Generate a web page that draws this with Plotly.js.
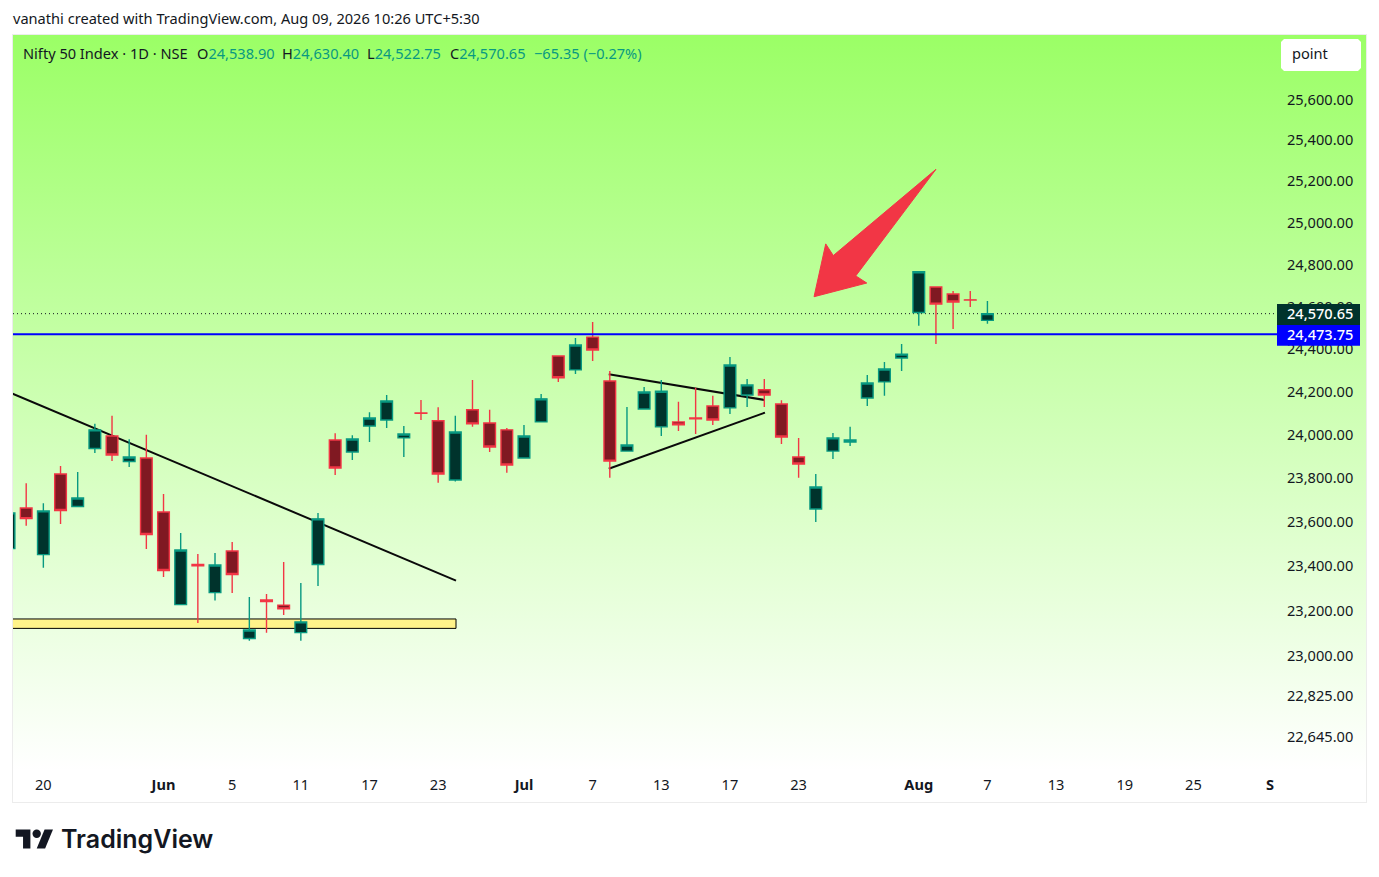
<!DOCTYPE html>
<html>
<head>
<meta charset="utf-8">
<title>Nifty 50 Index</title>
<script src="https://cdn.plot.ly/plotly-3.0.1.min.js"></script>
<style>
  html, body { margin: 0; padding: 0; background: #fff; }
  #frame { position: absolute; left: 12px; top: 34px; width: 1353px; height: 767px; border: 1px solid #ececec; background: #fff; }
  #grad { position: absolute; left: 0; top: 0; width: 1353px; height: 735px; background: linear-gradient(180deg, #9bff66 0%, #ffffff 100%); }
  #chart { position: absolute; left: 0; top: 0; width: 1379px; height: 877px; }
</style>
</head>
<body>
<div id="frame"><div id="grad"></div></div>
<div id="chart"></div>
<script>
// daily bars (bar index 0 = the one before "20")
const barIndex = [-1,0,1,2,3,4,5,6,7,8,9,10,11,12,13,14,15,16,17,18,19,20,21,22,23,24,25,26,27,28,29,30,31,32,33,34,35,36,37,38,39,40,41,42,43,44,45,46,47,48,49,50,51,52,53,54,55,56];
const opens  = [23484,23668,23457,23824,23675,23941,23999,23881,23897,23650,23232,23412,23286,23473,23081,23253,23230,23107,23412,23980,23925,24045,24073,23990,24105,24069,23796,24120,24059,24027,23897,24064,24371,24306,24460,24254,23929,24124,24041,24064,24082,24138,24129,24189,24213,24147,23902,23664,23929,23971,24175,24250,24362,24576,24697,24664,24636,24538.90];
const highs  = [23650,23781,23690,23861,23833,24055,24092,23984,24004,23732,23555,23460,23464,23514,23266,23280,23424,23329,23646,24011,24002,24109,24189,24045,24166,24132,24092,24259,24120,24036,24050,24194,24373,24456,24531,24301,24133,24226,24259,24157,24223,24185,24366,24264,24264,24164,23990,23824,24013,24041,24282,24343,24427,24772,24698,24678,24678,24630.40];
const lows   = [23480,23588,23398,23596,23672,23920,23883,23856,23482,23356,23230,23150,23250,23284,23071,23107,23186,23071,23316,23819,23888,23971,24036,23902,24073,23784,23789,24042,23925,23829,23895,24062,24250,24287,24348,23806,23927,24122,23999,24022,24008,24050,24101,24133,24133,23962,23806,23605,23893,23952,24138,24185,24301,24514,24427,24498,24602,24522.75];
const closes = [23646,23620,23655,23657,23714,24027,23911,23902,23548,23385,23478,23406,23410,23367,23119,23246,23213,23155,23619,23851,23985,24082,24161,24008,24104,23824,24017,24055,23948,23865,23999,24171,24269,24423,24399,23883,23957,24203,24206,24050,24078,24073,24329,24236,24189,23994,23870,23764,23990,23980,24245,24310,24380,24770,24616,24626,24635,24570.65];

const lastClose = 24570.65;
const levelPrice = 24473.75;

// drawings on the chart
const downTrendX = [-1, 25.04];
const downTrendY = [24202, 23340];
const triUpperX = [33.94, 43.0];
const triUpperY = [24286, 24166];
const triLowerX = [33.94, 43.04];
const triLowerY = [23848, 24107];
const zoneX = [-1, 25.04];
const zoneY = [23126, 23168];
const arrowX = [45.9, 46.58, 47.02, 53.0, 48.33, 48.97, 45.9];
const arrowY = [24651, 24903, 24847, 25263, 24750, 24716, 24651];

// axes
const priceTicks = [25600,25400,25200,25000,24800,24600,24400,24200,24000,23800,23600,23400,23200,23000,22825,22645];
const priceLabels = ['25,600.00','25,400.00','25,200.00','25,000.00','24,800.00','24,600.00','24,400.00','24,200.00','24,000.00','23,800.00','23,600.00','23,400.00','23,200.00','23,000.00','22,825.00','22,645.00'];
const timeTicks = [1,8,12,16,20,24,29,33,37,41,45,52,56,60,64,68,72.47];
const timeLabels = ['20','<b>Jun</b>','5','11','17','23','<b>Jul</b>','7','13','17','23','<b>Aug</b>','7','13','19','25','<b>S</b>'];

const COLORS = { up: '#089981', upFill: '#00332c', down: '#f23645', downFill: '#801922', text: '#131722', level: '#0000ff' };
const FONT = '"Noto Sans", sans-serif';
const TEXT_SIZE = 14.6;

// page pixels → paper coords
const W = 1379, H = 877;
const M = { l: 13, r: 102, t: 35, b: 107 };
const px = (x) => (x - M.l) / (W - M.l - M.r);
const py = (y) => 1 - (y - M.t) / (H - M.t - M.b);

function polyPath(pts) {
  return pts.map((p, i) => `${i ? 'L' : 'M'}${px(p[0])},${py(p[1])}`).join(' ') + ' Z';
}
function dataLine(xs, ys, color, width, dash, layer) {
  return { type: 'line', xref: 'x', yref: 'y', x0: xs[0], x1: xs[1], y0: ys[0], y1: ys[1], layer: layer || 'below', line: { color, width, dash: dash || 'solid' } };
}
// price tag box on the axis
function tagBox(top, bottom, color) {
  return { type: 'rect', xref: 'paper', yref: 'paper', layer: 'above', x0: px(1277), x1: px(1360), y0: py(bottom), y1: py(top), fillcolor: color, line: { width: 0 } };
}

const traces = [
  {
    type: 'candlestick', x: barIndex, open: opens, high: highs, low: lows, close: closes,
    whiskerwidth: 0, line: { width: 1.4 }, hoverinfo: 'skip',
    increasing: { line: { color: COLORS.up, width: 1.4 }, fillcolor: COLORS.upFill },
    decreasing: { line: { color: COLORS.down, width: 1.4 }, fillcolor: COLORS.downFill },
  },
  {
    type: 'scatter', mode: 'lines', x: arrowX, y: arrowY, fill: 'toself', fillcolor: COLORS.down,
    line: { color: COLORS.down, width: 1 }, hoverinfo: 'skip',
  },
];

// TradingView mark
const lx = (x) => 15.7 + 1.05 * x, ly = (y) => 825.3 + 1.05 * y;
const logoT = [[14,22],[7,22],[7,11],[0,11],[0,4],[14,4]].map((p) => [lx(p[0]), ly(p[1])]);
const logoSlash = [[28,22],[20,22],[27.5,4],[35.5,4]].map((p) => [lx(p[0]), ly(p[1])]);

const shapes = [
  { type: 'rect', xref: 'x', yref: 'y', x0: zoneX[0], x1: zoneX[1], y0: zoneY[0], y1: zoneY[1], layer: 'below', fillcolor: '#fff38a', line: { color: '#000', width: 1 } },
  dataLine(downTrendX, downTrendY, '#0a0a0a', 2),
  dataLine(triUpperX, triUpperY, '#0a0a0a', 2),
  dataLine(triLowerX, triLowerY, '#0a0a0a', 2),
  { type: 'line', xref: 'paper', yref: 'y', x0: 0, x1: 1, y0: lastClose, y1: lastClose, layer: 'below', line: { color: '#131722', width: 1, dash: '1px,3px' } },
  { type: 'line', xref: 'paper', yref: 'y', x0: 0, x1: 1, y0: levelPrice, y1: levelPrice, layer: 'above', line: { color: COLORS.level, width: 2 } },
  tagBox(304, 325, COLORS.upFill),
  tagBox(325, 345.7, COLORS.level),
  // "point" chip
  {
    type: 'path', xref: 'paper', yref: 'paper', layer: 'above', fillcolor: '#fff', line: { width: 0 },
    path: polyPath([[1284,39],[1358,39],[1361,42],[1361,68],[1358,71],[1284,71],[1281,68],[1281,42]]),
  },
  { type: 'path', xref: 'paper', yref: 'paper', layer: 'above', fillcolor: '#131722', line: { width: 0 }, path: polyPath(logoT) },
  { type: 'path', xref: 'paper', yref: 'paper', layer: 'above', fillcolor: '#131722', line: { width: 0 }, path: polyPath(logoSlash) },
  { type: 'circle', xref: 'paper', yref: 'paper', layer: 'above', fillcolor: '#131722', line: { width: 0 }, x0: px(lx(16)), x1: px(lx(24)), y0: py(ly(4)), y1: py(ly(12)) },
];

const teal = (s) => `<span style="color:${COLORS.up}">${s}</span>`;

// annotations carry 2px of padding, hence the -2 on x
function pageText(x, y, text, size, extra) {
  return Object.assign({
    xref: 'paper', yref: 'paper', x: px(x - 2), y: py(y), xanchor: 'left', yanchor: 'middle',
    text, showarrow: false, align: 'left', font: { family: FONT, size, color: COLORS.text },
  }, extra || {});
}
const tagFont = { family: FONT, size: TEXT_SIZE, color: '#fff', weight: 500 };

const annotations = [
  pageText(13, 18.5, 'vanathi created with TradingView.com, Aug 09, 2026 10:26 UTC+5:30', TEXT_SIZE),
  pageText(23, 52.5, 'Nifty 50 Index · 1D · NSE', TEXT_SIZE),
  pageText(197, 52.5, 'O' + teal('24,538.90'), TEXT_SIZE),
  pageText(282, 52.5, 'H' + teal('24,630.40'), TEXT_SIZE),
  pageText(367, 52.5, 'L' + teal('24,522.75'), TEXT_SIZE),
  pageText(450, 52.5, 'C' + teal('24,570.65'), TEXT_SIZE),
  pageText(534, 52.5, teal('−65.35 (−0.27%)'), TEXT_SIZE),
  pageText(1292, 52.5, 'point', TEXT_SIZE),
  pageText(61, 839, 'TradingView', 25, { font: { family: 'Inter, sans-serif', size: 25, color: COLORS.text, weight: 600 } }),
  pageText(1287, 313, '24,570.65', TEXT_SIZE, { font: tagFont }),
  pageText(1287, 334, '24,473.75', TEXT_SIZE, { font: tagFont }),
];

const layout = {
  width: W, height: H, margin: M, paper_bgcolor: 'rgba(0,0,0,0)', plot_bgcolor: 'rgba(0,0,0,0)',
  font: { family: FONT, size: TEXT_SIZE, color: COLORS.text },
  showlegend: false, dragmode: false, hovermode: false,
  boxgap: 0.32, boxgroupgap: 0,
  xaxis: {
    type: 'linear', range: [-0.769, 72.87], rangeslider: { visible: false },
    tickmode: 'array', tickvals: timeTicks, ticktext: timeLabels,
    showgrid: false, zeroline: false, showline: false, ticks: '', tickangle: 0,
    ticklabelstandoff: 4, tickfont: { family: FONT, size: TEXT_SIZE, color: COLORS.text },
  },
  yaxis: {
    type: 'log', side: 'right', range: [4.35226, 4.413717],
    tickmode: 'array', tickvals: priceTicks, ticktext: priceLabels,
    showgrid: false, zeroline: false, showline: false, ticks: '',
    ticklabelstandoff: 9, ticklabelshift: -1, tickfont: { family: FONT, size: TEXT_SIZE, color: COLORS.text },
  },
  shapes, annotations,
};

Plotly.newPlot('chart', traces, layout, { displayModeBar: false, staticPlot: true });
</script>
</body>
</html>
